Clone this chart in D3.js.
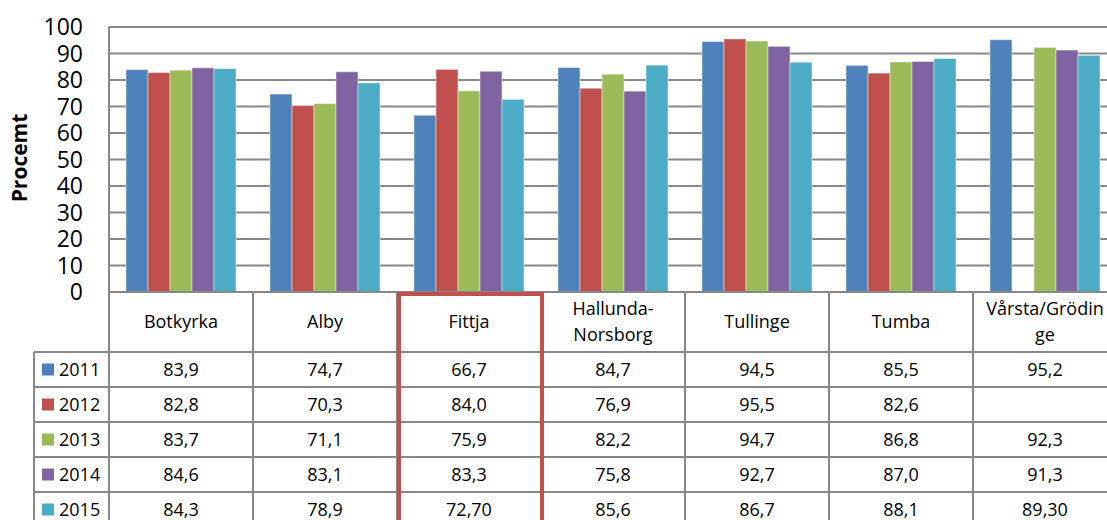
<!DOCTYPE html>
<html>
<head>
<meta charset="utf-8">
<script src="https://cdn.jsdelivr.net/npm/d3@7"></script>
<style>
  html, body { margin: 0; padding: 0; background: #fff; }
  svg { display: block; font-family: "Open Sans", sans-serif; }
</style>
</head>
<body>
<div id="graphic"></div>
<script>
// data (strings kept as printed)
var categories = ["Botkyrka", "Alby", "Fittja", "Hallunda-Norsborg", "Tullinge", "Tumba", "Vårsta/Gröding"];
var headerLines = [["Botkyrka"], ["Alby"], ["Fittja"], ["Hallunda-", "Norsborg"], ["Tullinge"], ["Tumba"], ["Vårsta/Grödin", "ge"]];
var years = ["2011", "2012", "2013", "2014", "2015"];
var colors = ["#4f81bd", "#c0504d", "#9bbb59", "#8064a2", "#4bacc6"];
var v2011 = ["83,9", "74,7", "66,7", "84,7", "94,5", "85,5", "95,2"];
var v2012 = ["82,8", "70,3", "84,0", "76,9", "95,5", "82,6", ""];
var v2013 = ["83,7", "71,1", "75,9", "82,2", "94,7", "86,8", "92,3"];
var v2014 = ["84,6", "83,1", "83,3", "75,8", "92,7", "87,0", "91,3"];
var v2015 = ["84,3", "78,9", "72,70", "85,6", "86,7", "88,1", "89,30"];
var yTicks = [0, 10, 20, 30, 40, 50, 60, 70, 80, 90, 100];
var highlight = "Fittja";

var rows = [v2011, v2012, v2013, v2014, v2015];
var num = function(s) { return s === "" ? null : parseFloat(s.replace(",", ".")); };

var W = 1107, H = 520;
var plotLeft = 109, plotTop = 27, base = 292, catW = 144;
var headerH = 60, rowH = 35, legendX = 34;
var gridColor = "#888888";

var svg = d3.select("#graphic").append("svg").attr("width", W).attr("height", H);

var x0 = d3.scaleBand().domain(categories).range([plotLeft, plotLeft + catW * categories.length]);
var x1 = d3.scaleBand().domain(years).range([17, catW - 17]);
var y = d3.scaleLinear().domain([0, 100]).range([base, plotTop]);

// gridlines
svg.append("g").selectAll("line").data(yTicks).join("line")
  .attr("x1", plotLeft).attr("x2", W)
  .attr("y1", function(d) { return y(d); }).attr("y2", function(d) { return y(d); })
  .attr("stroke", gridColor).attr("stroke-width", 2);

// y labels
svg.append("g").selectAll("text").data(yTicks).join("text")
  .attr("x", 83).attr("y", function(d) { return y(d); })
  .attr("dy", "0.36em").attr("text-anchor", "end")
  .attr("font-size", 23).attr("fill", "#000")
  .text(function(d) { return d; });

svg.append("text")
  .attr("transform", "translate(20,158) rotate(-90)")
  .attr("text-anchor", "middle").attr("dy", "0.35em")
  .attr("font-size", 21).attr("font-weight", "bold")
  .text("Procemt");

// bars
var groups = svg.append("g").selectAll("g").data(categories).join("g")
  .attr("transform", function(c) { return "translate(" + x0(c) + ",0)"; });
groups.selectAll("rect")
  .data(function(c, i) {
    return years.map(function(yr, k) { return { year: yr, k: k, v: num(rows[k][i]) }; })
      .filter(function(d) { return d.v !== null; });
  })
  .join("rect")
  .attr("x", function(d) { return x1(d.year); })
  .attr("width", x1.bandwidth())
  .attr("y", function(d) { return y(d.v); })
  .attr("height", function(d) { return base - y(d.v); })
  .attr("fill", function(d) { return colors[d.k]; })
  .attr("stroke", "#ffffff").attr("stroke-opacity", 0.45).attr("stroke-width", 1);

// table
var table = svg.append("g");
var tableBottom = base + headerH + rowH * years.length;
var hLines = [base].concat(years.map(function(d, k) { return base + headerH + rowH * k; }));
table.selectAll("line.h").data(hLines).join("line").attr("class", "h")
  .attr("x1", function(d, i) { return i === 0 ? plotLeft : legendX; }).attr("x2", W)
  .attr("y1", function(d) { return d; }).attr("y2", function(d) { return d; })
  .attr("stroke", gridColor).attr("stroke-width", 2);
var vLines = categories.map(function(c) { return x0(c); });
table.selectAll("line.v").data(vLines).join("line").attr("class", "v")
  .attr("x1", function(d) { return d; }).attr("x2", function(d) { return d; })
  .attr("y1", function(d, i) { return i === 0 ? plotTop : base; }).attr("y2", tableBottom)
  .attr("stroke", gridColor).attr("stroke-width", 2);
table.append("line")
  .attr("x1", legendX).attr("x2", legendX)
  .attr("y1", base + headerH).attr("y2", tableBottom)
  .attr("stroke", gridColor).attr("stroke-width", 2);

// header cells
categories.forEach(function(c, i) {
  var lines = headerLines[i];
  var cx = x0(c) + catW / 2;
  var cy = base + headerH / 2;
  lines.forEach(function(t, j) {
    table.append("text")
      .attr("x", cx).attr("y", cy + (j - (lines.length - 1) / 2) * 26)
      .attr("dy", "0.35em").attr("text-anchor", "middle")
      .attr("font-size", 18).text(t);
  });
});

// legend column + values
years.forEach(function(yr, k) {
  var cy = base + headerH + rowH * k + rowH / 2;
  table.append("rect").attr("x", 42).attr("y", cy - 6).attr("width", 12).attr("height", 12)
    .attr("fill", colors[k]);
  table.append("text").attr("x", 59).attr("y", cy).attr("dy", "0.36em")
    .attr("font-size", 18).text(yr);
  categories.forEach(function(c, i) {
    table.append("text")
      .attr("x", x0(c) + catW / 2).attr("y", cy).attr("dy", "0.36em")
      .attr("text-anchor", "middle").attr("font-size", 18)
      .text(rows[k][i]);
  });
});

// red highlight box
svg.append("rect")
  .attr("x", x0(highlight) + 2).attr("y", base + 2)
  .attr("width", catW - 1).attr("height", tableBottom - base)
  .attr("fill", "none").attr("stroke", "#c0504d").attr("stroke-width", 4);
</script>
</body>
</html>
